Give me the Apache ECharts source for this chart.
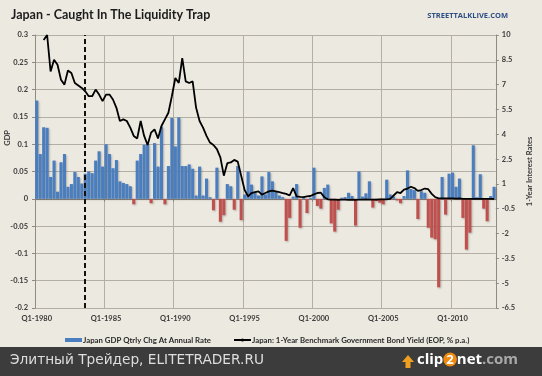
<!DOCTYPE html>
<html>
<head>
<meta charset="utf-8">
<script src="https://cdn.jsdelivr.net/npm/echarts@6/dist/echarts.min.js"></script>
<style>
  html, body { margin: 0; padding: 0; background: #ece9e0; }
  #chart { width: 542px; height: 376px; }
</style>
</head>
<body>
<div id="chart"></div>
<script>
// quarterly data, Q1-1980 .. Q1-2013
const startYear = 1980;

const gdpChange = [
  0.18, 0.082, 0.131, 0.13, 0.04, 0.07, 0.013, 0.067, 0.082, 0.022,
  0.027, 0.049, 0.04, 0.028, 0.046, 0.05, 0.047, 0.07, 0.087, 0.059,
  0.1, 0.082, 0.056, 0.071, 0.032, 0.029, 0.027, 0.023, -0.01, 0.07,
  0.082, 0.099, 0.1, -0.008, 0.102, 0.059, 0.132, -0.01, 0.06, 0.148,
  0.096, 0.149, 0.06, 0.06, 0.063, 0.055, 0.006, 0.059, 0.006, 0.037,
  0.003, -0.021, 0.057, -0.042, -0.03, 0.027, 0.023, -0.02, 0.06, -0.039,
  0.008, 0.05, 0.026, 0.011, 0.006, 0.041, 0.008, 0.049, 0.032, 0.014,
  0.006, 0.003, -0.077, -0.035, 0.004, 0.027, -0.053, 0.003, -0.026, 0.002,
  0.057, -0.013, -0.018, 0.02, 0.026, -0.045, -0.06, -0.02, 0.002, 0.003,
  0.011, 0.005, -0.049, 0.05, 0.004, 0.01, 0.032, -0.016, -0.004, -0.007,
  -0.01, 0.035, 0.008, 0.004, -0.003, -0.008, 0.005, 0.052, 0.018, 0.016,
  -0.037, 0.014, 0.011, -0.053, -0.071, -0.074, -0.162, 0.04, -0.029, 0.046,
  0.048, 0.022, 0.037, -0.035, -0.093, -0.062, 0.098, 0.003, 0.045, -0.018,
  -0.041, 0.005, 0.022
];

const bondYield = [
  null, null, 9.7, 10.0, 7.8, 8.5, 8.2, 7.3, 7.0, 7.85,
  7.7, 7.1, 6.95, 6.8, 6.6, 6.3, 6.3, 6.7, 6.4, 6.0,
  6.4, 6.4, 6.1, 5.6, 4.8, 4.9, 4.8, 4.4, 3.9, 3.75,
  4.8, 3.9, 3.35, 4.1, 4.3, 3.75, 4.5, 4.9, 5.3, 6.3,
  7.4, 7.1, 8.6, 7.2, 7.1, 7.2, 5.6, 4.8, 4.4, 3.9,
  3.5, 3.35, 3.1, 2.6, 1.5, 2.25, 2.3, 2.45, 2.35, 1.5,
  0.63, 0.25, 0.45, 0.5, 0.55, 0.35, 0.45, 0.55, 0.6, 0.55,
  0.5, 0.45, 0.4, 0.3, 0.75, 0.25, 0.22, 0.2, 0.25, 0.27,
  0.37, 0.45, 0.47, 0.2, 0.07, 0.05, 0.05, 0.04, 0.05, 0.05,
  0.04, 0.05, 0.04, 0.05, 0.05, 0.06, 0.05, 0.05, 0.05, 0.06,
  0.06, 0.07, 0.1, 0.3, 0.5, 0.45, 0.65, 0.72, 0.83, 0.75,
  0.58, 0.63, 0.72, 0.68, 0.4, 0.2, 0.13, 0.12, 0.13, 0.12,
  0.12, 0.11, 0.12, 0.1, 0.1, 0.1, 0.1, 0.1, 0.1, 0.1,
  0.1, 0.1, 0.1
];

const gdpAxis = { min: -0.2, max: 0.3, step: 0.05 };
const rateAxis = { min: -6.5, max: 10, step: 1.5 };
const dashedAt = 'Q3-1983';

const quarters = gdpChange.map((_, i) => 'Q' + (i % 4 + 1) + '-' + (startYear + Math.floor(i / 4)));

const chart = echarts.init(document.getElementById('chart'));
const font = 'Lato, "Open Sans", sans-serif';
const tickLbl = { color: '#3a3a3a', fontSize: 7.5, fontWeight: 'bold', fontFamily: font };
const gridClr = '#b3afa6';
const every20 = (i) => i % 20 === 0;
const trim = (v) => String(Math.round(v * 100) / 100);

chart.setOption({
  backgroundColor: '#ece9e0',
  animation: false,
  title: [
    { text: 'Japan - Caught In The Liquidity Trap', left: 6, top: 3,
      textStyle: { fontFamily: font, fontSize: 12.5, fontWeight: 'bold', color: '#1c1c1c' } },
    { text: 'STREETTALKLIVE.COM', right: 29, top: 7,
      textStyle: { fontFamily: '"Open Sans", sans-serif', fontSize: 7.5, fontWeight: 'bold', color: '#2d4f86' } }
  ],
  grid: { left: 35, right: 29, top: 35, bottom: 68 },
  legend: {
    left: 60, top: 331, itemGap: 22, itemWidth: 17, itemHeight: 4,
    textStyle: { color: '#2a2a2a', fontSize: 7.8, fontWeight: 'bold', fontFamily: font, padding: [0, 0, 0, -4] },
    data: [
      { name: 'Japan GDP Qtrly Chg At Annual Rate', icon: 'rect', itemStyle: { color: '#4a7ebf' } },
      { name: 'Japan: 1-Year Benchmark Government Bond Yield (EOP, % p.a.)' }
    ]
  },
  xAxis: {
    type: 'category',
    data: quarters,
    axisLine: { lineStyle: { color: '#8f8b83' } },
    axisTick: { show: true, interval: every20, length: 3, lineStyle: { color: '#8f8b83' } },
    axisLabel: { ...tickLbl, interval: every20, margin: 7 },
    splitLine: { show: true, interval: every20, lineStyle: { color: gridClr } }
  },
  yAxis: [
    {
      type: 'value', min: gdpAxis.min, max: gdpAxis.max, interval: gdpAxis.step,
      axisLine: { show: true, lineStyle: { color: '#8f8b83' } },
      axisTick: { show: true, length: 3, lineStyle: { color: '#8f8b83' } },
      axisLabel: { ...tickLbl, margin: 7, formatter: trim },
      splitLine: { lineStyle: { color: gridClr } }
    },
    {
      type: 'value', min: rateAxis.min, max: rateAxis.max, interval: rateAxis.step,
      name: '1-Year Interest Rates', nameLocation: 'middle', nameRotate: 90, nameGap: 25,
      nameTextStyle: { ...tickLbl, fontSize: 7.5 },
      axisLine: { show: true, lineStyle: { color: '#8f8b83' } },
      axisTick: { show: true, length: 3, lineStyle: { color: '#8f8b83' } },
      axisLabel: { ...tickLbl, margin: 6, formatter: trim },
      splitLine: { show: false }
    }
  ],
  series: [
    {
      name: 'Japan GDP Qtrly Chg At Annual Rate',
      type: 'bar',
      data: gdpChange,
      barCategoryGap: '12%',
      itemStyle: {
        color: (p) => (p.value < 0 ? '#c0504d' : '#4a7ebf'),
        shadowColor: 'rgba(0,0,0,0.25)', shadowBlur: 2, shadowOffsetX: 1, shadowOffsetY: 1
      },
      markLine: {
        silent: true, symbol: 'none', label: { show: false },
        lineStyle: { color: '#111', width: 2, type: [5, 3] },
        data: [{ xAxis: dashedAt }]
      }
    },
    {
      name: 'Japan: 1-Year Benchmark Government Bond Yield (EOP, % p.a.)',
      type: 'line',
      yAxisIndex: 1,
      data: bondYield,
      showSymbol: false,
      symbol: 'none',
      lineStyle: { color: '#000', width: 1.8 },
      itemStyle: { color: '#000' }
    }
  ],
  graphic: [
    { type: 'text', left: 4, top: 130, rotation: Math.PI / 2,
      style: { text: 'GDP', fill: '#3a3a3a', font: 'bold 7.5px ' + font } },
    { type: 'rect', left: 0, top: 347, shape: { width: 542, height: 29 }, style: { fill: '#3c3c3c' } },
    { type: 'text', left: 10, top: 353,
      style: { text: 'Элитный Трейдер, ELITETRADER.RU', fill: '#dedede', font: '13.7px "DejaVu Sans", sans-serif' } },
    { type: 'polygon', shape: { points: [[408, 355], [402, 362], [405.5, 362], [405.5, 368], [410.5, 368], [410.5, 362], [414, 362]] },
      style: { fill: '#f0a020' } },
    { type: 'text', left: 417, top: 352,
      style: {
        text: '{a|clip}{b|2}{a|net}{c|.com}',
        rich: {
          a: { fill: '#ffffff', font: 'bold 15px "Open Sans", sans-serif' },
          b: { fill: '#ffffff', font: 'bold 13px "Open Sans", sans-serif', backgroundColor: '#f08a10', borderRadius: 8, padding: [1, 3, 0, 3] },
          c: { fill: '#a8a8a8', font: 'bold 15px "Open Sans", sans-serif' }
        }
      } }
  ]
});
</script>
</body>
</html>
